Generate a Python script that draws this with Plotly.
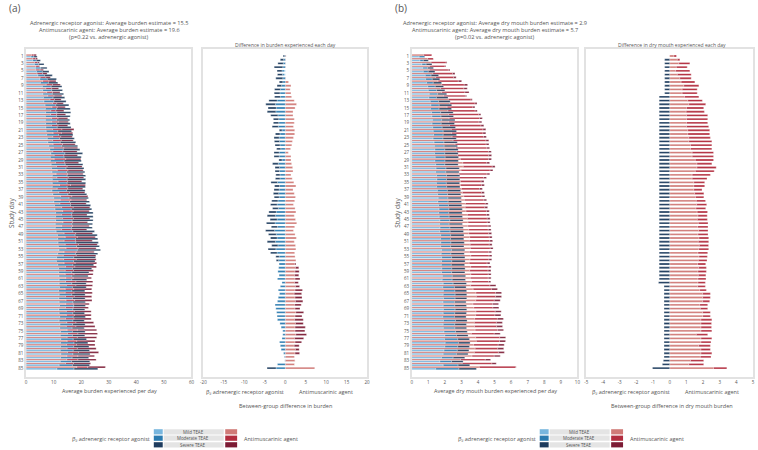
import plotly.graph_objects as go

W, H = 758, 450
days = list(range(1, 86))
day_ticks = list(range(1, 86, 2))

# ---------------- Panel (a): overall burden ----------------
a_adr_mild = [1.8, 2.4, 3.0, 3.4, 3.8, 4.3, 5.0, 5.2, 5.9, 6.0,
              6.1, 6.3, 6.5, 6.9, 7.0, 7.1, 7.0, 7.0, 7.1, 7.2,
              7.3, 7.5, 7.7, 7.9, 8.2, 8.6, 9.0, 8.8, 8.8, 9.1,
              9.2, 9.4, 9.5, 9.5, 9.5, 9.5, 9.4, 9.7, 10.0, 10.1,
              10.3, 10.5, 10.7, 10.7, 10.7, 10.6, 10.6, 10.9, 11.4, 11.5,
              11.6, 11.7, 11.9, 11.5, 11.1, 11.0, 11.5, 11.8, 11.8, 11.9,
              12.0, 12.0, 12.1, 11.8, 12.0, 11.9, 12.0, 12.1, 11.9, 12.0,
              12.2, 12.0, 12.3, 12.2, 12.5, 12.4, 12.6, 12.5, 12.5, 12.4,
              12.6, 12.5, 12.4, 12.0, 11.2]
a_adr_mod = [1.0, 1.3, 1.6, 1.9, 2.1, 2.4, 2.7, 2.9, 3.2, 3.3,
             3.4, 3.5, 3.6, 3.9, 4.1, 4.1, 4.0, 4.0, 4.0, 4.1,
             4.2, 4.3, 4.4, 4.5, 4.7, 4.9, 5.1, 5.0, 5.0, 5.1,
             5.3, 5.3, 5.4, 5.4, 5.4, 5.4, 5.3, 5.5, 5.6, 5.7,
             5.8, 5.9, 6.0, 6.0, 6.0, 6.0, 5.9, 6.1, 6.4, 6.4,
             6.5, 6.6, 6.7, 6.4, 6.2, 6.2, 5.5, 5.0, 4.8, 4.7,
             4.6, 4.6, 4.7, 4.8, 4.6, 4.9, 5.0, 5.2, 5.1, 5.0,
             4.9, 5.0, 4.6, 4.5, 4.3, 4.4, 4.5, 4.9, 4.8, 4.7,
             4.4, 4.2, 4.1, 4.8, 6.2]
a_adr_sev = [1.2, 1.5, 1.9, 2.3, 2.4, 2.8, 3.3, 3.4, 3.9, 3.9,
             4.1, 4.2, 4.4, 4.7, 4.9, 5.0, 5.0, 4.8, 4.9, 5.0,
             5.0, 5.2, 5.4, 5.6, 5.8, 6.0, 6.4, 6.2, 6.2, 6.4,
             6.5, 6.6, 6.7, 6.7, 6.7, 6.6, 6.7, 6.8, 7.0, 7.2,
             7.3, 7.4, 7.6, 7.6, 7.6, 7.5, 7.5, 7.8, 8.0, 8.1,
             8.1, 8.3, 8.4, 8.1, 7.9, 7.8, 7.5, 7.0, 6.2, 5.9,
             5.4, 5.2, 5.0, 4.7, 4.8, 4.6, 4.5, 4.2, 4.3, 4.2,
             4.4, 4.1, 4.5, 4.4, 4.6, 4.5, 4.8, 5.0, 5.5, 5.9,
             6.2, 6.0, 6.6, 6.2, 8.6]
# between-group difference (antimuscarinic minus adrenergic), per severity
a_diff_mild = [0.2, 0.1, 0.1, 0.1, -0.3, -0.3, 0.1, 0.8, 1.4, 1.2,
               1.4, 1.55, 2.2, 2.75, 2.4, 1.9, 1.9, 2.2, 2.2, 2.0,
               2.3, 2.3, 2.0, 1.75, 1.6, 1.3, 0.75, 1.4, 1.4, 1.55,
               1.8, 1.9, 1.4, 1.7, 2.1, 2.6, 1.9, 2.2, 2.5, 2.3,
               2.0, 2.4, 2.6, 2.2, 2.5, 2.8, 2.3, 2.0, 2.4, 2.7,
               2.2, 2.5, 2.6, 2.3, 2.4, 2.6, 2.3, 2.5, 2.4, 2.3,
               2.4, 2.3, 2.5, 2.4, 2.2, 2.4, 2.5, 2.3, 2.4, 2.6,
               2.4, 2.3, 2.5, 2.4, 2.4, 2.6, 2.3, 2.4, 2.2, 2.5,
               2.4, 2.3, 2.4, 2.3, 7.2]
a_diff_mod = [-0.2, -0.4, -0.5, -0.6, -0.5, -0.4, -0.6, -0.6, -0.9, -1.2,
              -1.3, -1.2, -2.0, -2.4, -2.2, -2.3, -1.8, -1.6, -1.6, -1.7,
              -0.8, -1.3, -1.5, -1.4, -1.3, -1.1, -1.5, -1.5, -0.8, -1.7,
              -1.4, -1.4, -1.3, -1.3, -1.9, -1.4, -1.5, -1.6, -1.5, -1.8,
              -2.0, -1.7, -2.2, -2.4, -2.0, -2.5, -1.9, -2.6, -2.2, -2.0,
              -2.4, -1.8, -2.3, -2.0, -1.5, -1.6, -1.5, -1.6, -1.8, -1.5,
              -1.9, -0.8, -1.2, -1.7, -1.4, -1.7, -1.9, -2.5, -2.3, -2.1,
              -2.0, -1.9, -1.3, -1.0, -0.6, -0.6, -0.8, -1.4, -1.2, -1.0,
              -0.4, -0.2, -0.1, -1.9, -2.25]
a_diff_sev = [-0.3, -0.8, -1.3, -2.1, -1.2, -1.2, -1.7, -0.85, -1.1, -1.4,
              -1.4, -1.4, -2.0, -2.35, -2.0, -2.1, -1.75, -1.3, -1.3, -1.5,
              -0.65, -1.1, -1.25, -1.25, -1.2, -1.0, -1.25, -1.25, -0.75, -1.4,
              -1.1, -1.1, -1.0, -1.1, -1.6, -1.2, -1.25, -1.3, -1.2, -1.5,
              -1.6, -1.4, -1.8, -2.0, -1.7, -2.1, -1.5, -2.2, -1.9, -1.6,
              -2.0, -1.5, -1.9, -1.6, -0.8, -0.6, 0.3, 0.8, 1.0, 1.0,
              1.2, 0.9, 1.0, 1.8, 1.8, 1.7, 1.8, 1.6, 1.2, 1.9,
              1.7, 2.1, 1.9, 2.5, 2.4, 2.6, 2.2, 1.6, 1.2, 0.9,
              1.1, 0.0, 0.0, 0.0, -2.2]

# ---------------- Panel (b): dry mouth burden ----------------
b_adr_mild = [0.45, 0.5, 0.62, 0.66, 0.7, 0.82, 0.84, 0.9, 0.97, 1.0,
              1.06, 1.04, 1.12, 1.16, 1.13, 1.2, 1.22, 1.25, 1.23, 1.27,
              1.3, 1.32, 1.29, 1.35, 1.37, 1.4, 1.38, 1.42, 1.4, 1.45,
              1.47, 1.44, 1.5, 1.52, 1.49, 1.5, 1.55, 1.56, 1.6, 1.58,
              1.62, 1.65, 1.63, 1.66, 1.7, 1.68, 1.71, 1.7, 1.75, 1.74,
              1.76, 1.75, 1.8, 1.78, 1.81, 1.8, 1.79, 1.82, 1.8, 1.85,
              1.84, 1.9, 1.88, 1.91, 1.9, 1.92, 1.89, 1.9, 1.91, 1.9,
              1.88, 1.92, 1.9, 1.91, 1.95, 2.0, 1.98, 2.02, 2.0, 1.95,
              1.9, 1.8, 1.7, 1.9, 1.45]
b_adr_mod = [0.35, 0.2, 0.25, 0.3, 0.3, 0.35, 0.4, 0.4, 0.45, 0.5,
             0.5, 0.45, 0.5, 0.5, 0.52, 0.55, 0.55, 0.56, 0.55, 0.57,
             0.6, 0.58, 0.6, 0.6, 0.59, 0.6, 0.62, 0.6, 0.61, 0.55,
             0.6, 0.62, 0.6, 0.58, 0.6, 0.61, 0.6, 0.6, 0.59, 0.62,
             0.6, 0.6, 0.61, 0.6, 0.6, 0.58, 0.6, 0.62, 0.6, 0.6,
             0.61, 0.6, 0.6, 0.59, 0.6, 0.62, 0.6, 0.6, 0.61, 0.6,
             0.6, 0.6, 0.7, 0.7, 0.72, 0.7, 0.69, 0.7, 0.71, 0.7,
             0.7, 0.72, 0.7, 0.7, 0.7, 0.7, 0.8, 0.8, 0.78, 0.8,
             0.8, 0.7, 0.7, 0.9, 1.4]
b_adr_sev = [0.0, 0.3, 0.35, 0.35, 0.4, 0.45, 0.45, 0.5, 0.5, 0.5,
             0.55, 0.7, 0.7, 0.75, 0.75, 0.75, 0.75, 0.8, 0.8, 0.8,
             0.8, 0.8, 0.8, 0.8, 0.8, 0.8, 0.8, 0.8, 0.8, 0.8,
             0.8, 0.8, 0.8, 0.8, 0.8, 0.8, 0.8, 0.8, 0.8, 0.8,
             0.8, 0.8, 0.8, 0.8, 0.8, 0.8, 0.8, 0.8, 0.8, 0.8,
             0.8, 0.8, 0.8, 0.8, 0.8, 0.8, 0.8, 0.8, 0.8, 0.8,
             0.8, 0.8, 0.7, 0.7, 0.7, 0.7, 0.7, 0.7, 0.7, 0.7,
             0.7, 0.7, 0.7, 0.7, 0.7, 0.7, 0.7, 0.7, 0.7, 0.7,
             0.7, 0.7, 0.7, 0.7, 1.05]
b_diff_mild = [0.26, 0.46, 0.55, 0.40, 0.36, 0.46, 0.61, 0.69, 0.85, 0.75,
               0.75, 0.89, 1.09, 1.15, 1.01, 0.99, 1.01, 1.01, 1.01, 1.01,
               1.09, 1.09, 1.15, 1.15, 1.25, 1.25, 1.35, 1.35, 1.54, 1.64,
               1.64, 1.54, 1.35, 1.35, 1.45, 1.45, 1.45, 1.50, 1.55, 1.60,
               1.62, 1.58, 1.65, 1.70, 1.66, 1.72, 1.68, 1.74, 1.70, 1.76,
               1.72, 1.78, 1.74, 1.70, 1.76, 1.72, 1.68, 1.74, 1.70, 1.72,
               1.70, 1.70, 1.68, 1.80, 1.98, 1.98, 1.98, 1.80, 1.84, 1.98,
               1.98, 1.88, 1.88, 1.88, 1.88, 1.60, 1.88, 1.88, 1.74, 1.88,
               1.88, 1.84, 1.25, 1.15, 2.63]
b_diff_mod = [0.16, 0.15, 0.66, 0.65, 0.85, 0.83, 0.68, 0.82, 0.90, 0.90,
              0.90, 0.86, 0.87, 1.01, 1.03, 1.09, 1.27, 1.27, 1.27, 1.33,
              1.31, 1.31, 1.29, 1.38, 1.28, 1.28, 1.28, 1.28, 1.09, 0.89,
              1.15, 1.13, 1.09, 0.89, 0.65, 0.65, 0.49, 0.55, 0.50, 0.55,
              0.60, 0.58, 0.62, 0.55, 0.60, 0.58, 0.62, 0.56, 0.60, 0.58,
              0.62, 0.55, 0.60, 0.58, 0.50, 0.52, 0.48, 0.46, 0.50, 0.45,
              0.48, 0.44, 0.46, 0.40, 0.46, 0.46, 0.42, 0.48, 0.44, 0.46,
              0.46, 0.65, 0.63, 0.63, 0.65, 0.68, 0.65, 0.60, 0.70, 0.56,
              0.65, 0.64, 0.79, 0.89, 0.80]
b_diff_sev = [0.0, -0.3, -0.3, -0.3, -0.3, -0.3, -0.3, -0.3, -0.3, -0.3,
              -0.3, -0.63, -0.63, -0.63, -0.63, -0.63, -0.63, -0.63, -0.63, -0.63,
              -0.63, -0.63, -0.63, -0.63, -0.63, -0.63, -0.63, -0.63, -0.63, -0.63,
              -0.63, -0.63, -0.63, -0.63, -0.63, -0.63, -0.63, -0.63, -0.63, -0.63,
              -0.63, -0.63, -0.63, -0.63, -0.63, -0.63, -0.63, -0.63, -0.63, -0.63,
              -0.63, -0.63, -0.63, -0.63, -0.63, -0.63, -0.63, -0.63, -0.63, -0.63,
              -0.63, -0.67, -0.34, -0.34, -0.34, -0.34, -0.34, -0.34, -0.34, -0.34,
              -0.34, -0.34, -0.34, -0.34, -0.34, -0.34, -0.34, -0.34, -0.34, -0.34,
              -0.34, -0.34, -0.38, -0.44, -1.03]

severities = ["Mild TEAE", "Moderate TEAE", "Severe TEAE"]
blue = ["#78b6de", "#2b7bb0", "#1e3c5e"]
red = ["#d07a77", "#b22d3e", "#7c1b34"]
FONT = "Open Sans"
GREY = "#555555"


def px(x):
    return x / W


def py(y):
    return 1 - y / H


fig = go.Figure()


def add_main(adr, diff, xa, ya):
    anti = [[a + d for a, d in zip(adr[k], diff[k])] for k in range(3)]
    for grp, cols, off in ((anti, red, -0.46), (adr, blue, 0.0)):
        base = [0.0] * len(days)
        for k in range(3):
            fig.add_trace(go.Bar(
                orientation="h", y=days, x=grp[k], base=base[:],
                offset=off, width=0.44, marker_color=cols[k],
                marker_line_color="white", marker_line_width=0.3,
                xaxis=xa, yaxis=ya, showlegend=False, hoverinfo="skip"))
            base = [b + v for b, v in zip(base, grp[k])]


def add_diff(diff, xa, ya):
    pos = [0.0] * len(days)
    neg = [0.0] * len(days)
    for k in range(3):
        bases, cols = [], []
        for i, d in enumerate(diff[k]):
            if d >= 0:
                bases.append(pos[i]); pos[i] += d; cols.append(red[k])
            else:
                bases.append(neg[i]); neg[i] += d; cols.append(blue[k])
        fig.add_trace(go.Bar(
            orientation="h", y=days, x=diff[k], base=bases,
            offset=-0.25, width=0.5, marker_color=cols,
            marker_line_color="white", marker_line_width=0.3,
            xaxis=xa, yaxis=ya, showlegend=False, hoverinfo="skip"))


add_main([a_adr_mild, a_adr_mod, a_adr_sev], [a_diff_mild, a_diff_mod, a_diff_sev], "x", "y")
add_diff([a_diff_mild, a_diff_mod, a_diff_sev], "x2", "y2")
add_main([b_adr_mild, b_adr_mod, b_adr_sev], [b_diff_mild, b_diff_mod, b_diff_sev], "x3", "y3")
add_diff([b_diff_mild, b_diff_mod, b_diff_sev], "x4", "y4")

YDOM = [py(377), py(49.3)]
YRANGE = [87.4, -0.8]
frame = dict(showline=True, mirror=True, linecolor="#e2e2e2", linewidth=1.5,
             showgrid=False, zeroline=False, ticks="",
             tickfont=dict(size=4.5, color=GREY, family=FONT))


def xax(dom, rng, vals, anchor):
    d = dict(frame)
    d.update(domain=dom, range=rng, tickvals=vals,
             ticktext=[str(v) for v in vals], anchor=anchor)
    return d


def yax(anchor, labels):
    d = dict(frame)
    d.update(domain=YDOM, range=YRANGE, anchor=anchor)
    if labels:
        d.update(tickvals=day_ticks, ticktext=[str(v) for v in day_ticks])
    else:
        d.update(showticklabels=False)
    return d


fig.update_layout(
    width=W, height=H, margin=dict(l=0, r=0, t=0, b=0),
    paper_bgcolor="white", plot_bgcolor="white", barmode="overlay",
    font=dict(family=FONT, color=GREY),
    xaxis=xax([px(23.3), px(190)], [0, 60], list(range(0, 61, 10)), "y"),
    yaxis=yax("x", True),
    xaxis2=xax([px(202), px(367)], [-20, 20], list(range(-20, 21, 5)), "y2"),
    yaxis2=yax("x2", False),
    xaxis3=xax([px(412), px(579)], [0, 10], list(range(0, 11)), "y3"),
    yaxis3=yax("x3", True),
    xaxis4=xax([px(588), px(756)], [-5, 5], list(range(-5, 6)), "y4"),
    yaxis4=yax("x4", False),
)

ann = []


def text(x, y, s, size=5.0, xanchor="center", angle=0, color=GREY):
    ann.append(dict(x=px(x), y=py(y), xref="paper", yref="paper", text=s,
                    showarrow=False, xanchor=xanchor, yanchor="middle",
                    textangle=angle, font=dict(size=size, color=color, family=FONT)))


B2 = "β₂ adrenergic receptor agonist"
for ox, lab, t1, t2, t3, dtitle, xt, dx in (
        (0, "(a)",
         "Adrenergic receptor agonist: Average burden estimate = 15.5",
         "Antimuscarinic agent: Average burden estimate = 19.6",
         "(p=0.22 vs. adrenergic agonist)",
         "Difference in burden experienced each day",
         "Average burden experienced per day",
         "Between-group difference in burden"),
        (389, "(b)",
         "Adrenergic receptor agonist: Average dry mouth burden estimate = 2.9",
         "Antimuscarinic agent: Average dry mouth burden estimate = 5.7",
         "(p=0.02 vs. adrenergic agonist)",
         "Difference in dry mouth experienced each day",
         "Average dry mouth burden experienced per day",
         "Between-group difference in dry mouth burden")):
    text(4 + ox, 8, lab, size=10, xanchor="left")
    text(107 + ox, 23.5, t1, size=5.6)
    text(107 + ox, 30.0, t2, size=5.6)
    text(107 + ox, 36.5, t3, size=5.6)
    text(285 + ox, 45, dtitle)
    text(107 + ox, 391, xt, size=5.5)
    text(8 + ox, 213, "Study day", size=6.5, angle=-90)
    text(244 + ox, 392, B2, size=5.5)
    text(326 + ox, 392, "Antimuscarinic agent", size=5.5)
    text(285 + ox, 405.5, dx, size=5.5)
    # legend
    text(150 + ox, 438.5, B2, size=5.5, xanchor="right")
    text(241 + ox, 438.5, "Antimuscarinic agent", size=5.5, xanchor="left")
    for i, (sv, yc) in enumerate(zip(severities, (431.8, 438.2, 444.8))):
        fig.add_shape(type="rect", xref="paper", yref="paper",
                      x0=px(152 + ox), x1=px(161 + ox), y0=py(yc - 2.6), y1=py(yc + 2.6),
                      fillcolor=blue[i], line_width=0)
        fig.add_shape(type="rect", xref="paper", yref="paper",
                      x0=px(162 + ox), x1=px(222.5 + ox), y0=py(yc - 2.6), y1=py(yc + 2.6),
                      fillcolor="#e4e4e4", line_width=0)
        fig.add_shape(type="rect", xref="paper", yref="paper",
                      x0=px(224 + ox), x1=px(236 + ox), y0=py(yc - 2.6), y1=py(yc + 2.6),
                      fillcolor=red[i], line_width=0)
        text(192 + ox, yc, sv, size=4.4)

fig.update_layout(annotations=ann)
fig.write_html("out.html", config={"displayModeBar": False},
               post_script="document.body.style.margin='0';document.body.style.overflow='hidden';")
